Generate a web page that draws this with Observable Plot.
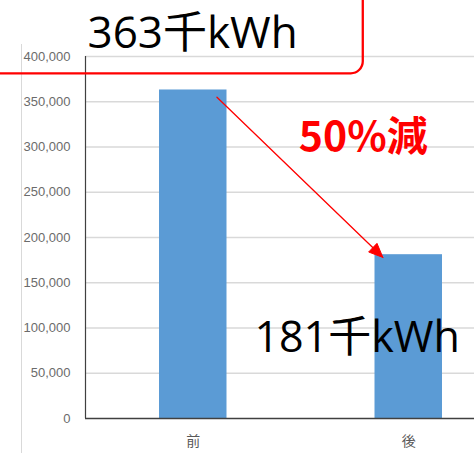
<!DOCTYPE html>
<html>
<head>
<meta charset="utf-8">
<script src="https://cdn.jsdelivr.net/npm/d3@7"></script>
<script src="https://cdn.jsdelivr.net/npm/@observablehq/plot@0.6"></script>
<style>
  html, body { margin: 0; padding: 0; background: #fff; overflow: hidden; }
  #wrap { position: relative; width: 474px; height: 453px; }
  #border { position: absolute; left: 21px; top: 44px; width: 0; height: 409px; border-left: 1px solid #d9d9d9; }
</style>
</head>
<body>
<div id="wrap"><div id="border"></div></div>
<script>
// ---- data ----
const categories = ["前", "後"];
const values = [363000, 181000];
const yTicks = [0, 50000, 100000, 150000, 200000, 250000, 300000, 350000, 400000];

// ---- layout / style constants ----
const W = 474, H = 453;
const xDomain = [0, categories.length], xRange = [85, 516];
const yDomain = [0, 400000], yRange = [418, 56];
const barHalf = 0.1566;
const blue = "#5B9BD5", red = "#FF0000";
const cjk = "'Noto Sans CJK JP', 'Noto Sans', sans-serif";
const big = "'Open Sans', 'Noto Sans CJK JP', sans-serif";

const data = categories.map((c, i) => ({cat: c, value: values[i], pos: i + 0.5}));

// annotation anchors (data units)
const arrowStart = {x: 0.61, y: 355000};
const arrowEnd = {x: 1.38, y: 178000};
const boxEdge = {x: 1.289, y: 380900};

const px = d3.scaleLinear(xDomain, xRange);
const py = d3.scaleLinear(yDomain, yRange);

// arrowhead triangle computed from the arrow ends (pixel geometry -> data)
const sx = px(arrowStart.x), sy = py(arrowStart.y);
const ex = px(arrowEnd.x), ey = py(arrowEnd.y);
const len = Math.hypot(ex - sx, ey - sy);
const ux = (ex - sx) / len, uy = (ey - sy) / len;
const headL = 14, headW = 12;
const bx = ex - ux * headL, by = ey - uy * headL;
const tri = [
  [ex, ey],
  [bx - uy * headW / 2, by + ux * headW / 2],
  [bx + uy * headW / 2, by - ux * headW / 2],
  [ex, ey]
].map(([a, b]) => ({x: px.invert(a), y: py.invert(b)}));
const shaft = [{x: arrowStart.x, y: arrowStart.y}, {x: px.invert(bx + ux * 2), y: py.invert(by + uy * 2)}];

const fmt = d3.format(",");
const label1 = `${Math.round(values[0] / 1000)}千kWh`;
const label2 = `${Math.round(values[1] / 1000)}千kWh`;
const labelPct = `${Math.round((1 - values[1] / values[0]) * 100)}%減`;

const chart = Plot.plot({
  width: W,
  height: H,
  marginLeft: 85,
  marginRight: 0,
  marginTop: 56,
  marginBottom: 35,
  style: {background: "transparent", overflow: "hidden"},
  x: {domain: xDomain, range: xRange, axis: null},
  y: {domain: yDomain, range: yRange, axis: null},
  marks: [
    Plot.ruleY(yTicks.filter(d => d > 0), {stroke: "#d9d9d9", strokeWidth: 1.3}),
    Plot.rectY(data, {x1: d => d.pos - barHalf, x2: d => d.pos + barHalf, y1: 0, y2: "value", fill: blue}),
    Plot.ruleX([0], {stroke: "#404040", strokeWidth: 1.2}),
    Plot.ruleY([0], {stroke: "#404040", strokeWidth: 1.4}),
    Plot.text(yTicks, {y: d => d, text: d => fmt(d), frameAnchor: "left", textAnchor: "end", dx: -15,
      fill: "#6b6b6b", fontSize: 13, fontFamily: "'Liberation Sans', Arial, sans-serif"}),
    Plot.text(data, {x: "pos", y: 0, text: "cat", dy: 23, fill: "#595959", fontSize: 14, fontFamily: cjk}),
    Plot.line(shaft, {x: "x", y: "y", stroke: red, strokeWidth: 1.3}),
    Plot.line(tri, {x: "x", y: "y", fill: red, stroke: red, strokeWidth: 1}),
    Plot.rect([0], {x1: -1, x2: boxEdge.x, y1: boxEdge.y, y2: 520000, fill: "none", stroke: red, strokeWidth: 2.3, rx: 12}),
    Plot.text([label1], {x: 0, y: 425400, text: d => d, textAnchor: "start", dx: 2, fill: "#000", fontSize: 44, fontFamily: big}),
    Plot.text([label2], {x: 0.784, y: 88400, text: d => d, textAnchor: "start", fill: "#000", fontSize: 43, fontFamily: big}),
    Plot.text([labelPct], {x: 0.99, y: 310000, text: d => d, textAnchor: "start", fill: red, fontWeight: "bold", fontSize: 41, fontFamily: cjk})
  ]
});
chart.style.position = "absolute";
chart.style.left = "0";
chart.style.top = "0";
document.getElementById("wrap").appendChild(chart);
</script>
</body>
</html>
